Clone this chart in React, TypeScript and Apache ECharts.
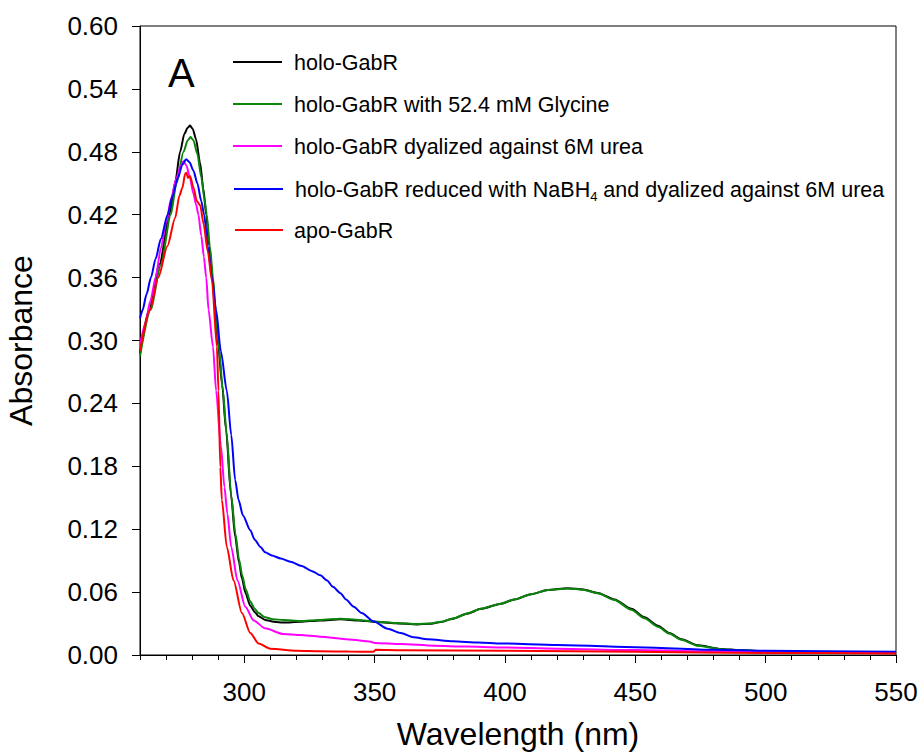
import React, { useEffect, useRef } from "react";
import * as echarts from "echarts";

// Absorbance spectra (wavelength in nm, absorbance)
const holoWl = [260, 263.5, 267.5, 271.3, 273.5, 275.4, 277, 278.3, 279.2, 280.2, 281.5, 283, 284.3, 285.4, 286.6, 287.8, 288.8, 290, 291.5, 293, 294.9, 296.5, 298, 299.1, 300.5, 302.3, 304, 305.5, 308, 311.3, 315, 321.5, 329, 337, 344, 349.7, 358, 366.4, 371, 375.4, 380, 385.6, 390.8, 398.5, 403.6, 410, 416.4, 424.1, 430, 435.6, 442, 448.5, 453.5, 458.7, 463, 467.7, 474.1, 483, 490, 500, 520, 550];
const holoAbs = [0.288, 0.329, 0.373, 0.42, 0.451, 0.48, 0.497, 0.503, 0.505, 0.502, 0.492, 0.47, 0.445, 0.42, 0.39, 0.36, 0.329, 0.295, 0.258, 0.215, 0.153, 0.113, 0.088, 0.073, 0.059, 0.047, 0.041, 0.037, 0.0335, 0.0317, 0.031, 0.0317, 0.033, 0.034, 0.033, 0.0317, 0.0302, 0.0292, 0.0297, 0.0315, 0.0345, 0.0395, 0.044, 0.049, 0.053, 0.058, 0.062, 0.0637, 0.0625, 0.0592, 0.053, 0.044, 0.036, 0.028, 0.021, 0.015, 0.0092, 0.0058, 0.0045, 0.0037, 0.0029, 0.0022];

const glyWl = [260, 264, 268, 271.8, 274, 276.7, 278.3, 279.4, 280.5, 282, 283.5, 284.7, 285.6, 286.8, 288, 289, 290.2, 291.8, 293.2, 295, 296.6, 298, 299.2, 300.5, 302.3, 304, 305.5, 308, 311, 315, 321.5, 329, 337, 344, 349.7, 358, 366.4, 371, 375.4, 380, 385.6, 390.8, 398.5, 403.6, 410, 416.4, 424.1, 430, 435.6, 442, 448.5, 453.5, 458.7, 463, 467.7, 474.1, 483, 490, 500, 520, 550];
const glyAbs = [0.285, 0.329, 0.372, 0.42, 0.45, 0.48, 0.491, 0.494, 0.491, 0.478, 0.456, 0.435, 0.42, 0.39, 0.36, 0.329, 0.295, 0.252, 0.212, 0.152, 0.116, 0.091, 0.076, 0.063, 0.051, 0.044, 0.04, 0.036, 0.0342, 0.0333, 0.0325, 0.0335, 0.0345, 0.0335, 0.032, 0.0305, 0.0295, 0.03, 0.0317, 0.0347, 0.0397, 0.0442, 0.049, 0.053, 0.058, 0.062, 0.0635, 0.0622, 0.0588, 0.0525, 0.0432, 0.035, 0.027, 0.0205, 0.0145, 0.0088, 0.0056, 0.0045, 0.0037, 0.0029, 0.0022];

const ureaWl = [260, 262, 264, 266, 268, 270, 272, 274, 275.5, 276.7, 277.8, 279, 280.5, 281.5, 282.4, 283.5, 284.5, 285.4, 286.3, 288, 289.2, 291, 292.4, 293.5, 295, 297.4, 300.4, 303.6, 308, 315, 321.5, 329, 340, 348.5, 350, 360, 372.8, 385, 398.5, 420, 450, 480, 500, 550];
const ureaAbs = [0.295, 0.316, 0.338, 0.36, 0.388, 0.412, 0.436, 0.455, 0.466, 0.471, 0.467, 0.457, 0.44, 0.43, 0.42, 0.4, 0.38, 0.36, 0.329, 0.294, 0.252, 0.2, 0.16, 0.135, 0.103, 0.071, 0.046, 0.033, 0.0254, 0.02, 0.019, 0.0175, 0.0148, 0.0127, 0.0115, 0.0105, 0.0089, 0.008, 0.0072, 0.006, 0.0047, 0.0035, 0.003, 0.002];

const nabhWl = [260, 261, 262.5, 264.2, 266, 268, 270.6, 272.5, 274.5, 276.3, 277.7, 279, 280.5, 282, 283.5, 284.6, 286, 287.6, 289.2, 291, 293.3, 295, 296.5, 297.8, 299.5, 302.3, 304, 306.2, 308, 310.6, 314, 317.7, 322, 326, 329.2, 331.8, 334, 336.9, 339, 342, 345, 349.7, 355, 360, 365, 370.3, 380, 390, 398.5, 420, 450, 480, 500, 550];
const nabhAbs = [0.321, 0.329, 0.344, 0.36, 0.378, 0.397, 0.42, 0.438, 0.455, 0.468, 0.473, 0.47, 0.462, 0.45, 0.433, 0.42, 0.39, 0.36, 0.329, 0.29, 0.252, 0.21, 0.167, 0.148, 0.133, 0.119, 0.11, 0.103, 0.098, 0.095, 0.092, 0.089, 0.085, 0.08, 0.076, 0.071, 0.065, 0.059, 0.053, 0.046, 0.04, 0.032, 0.025, 0.021, 0.017, 0.015, 0.013, 0.012, 0.011, 0.0095, 0.0075, 0.005, 0.004, 0.003];

const apoWl = [260, 263.8, 267, 270.5, 273.5, 275.1, 276.3, 277.3, 277.8, 278.4, 279.2, 280.5, 281.8, 283.1, 284.4, 286, 287.6, 289.5, 290.1, 290.8, 291.4, 293.3, 295.9, 299.1, 302.3, 305.5, 310, 320, 329.2, 340, 349.5, 350.5, 360, 400, 450, 500, 550];
const apoAbs = [0.29, 0.329, 0.36, 0.39, 0.417, 0.438, 0.446, 0.459, 0.46, 0.455, 0.457, 0.446, 0.433, 0.429, 0.411, 0.385, 0.357, 0.294, 0.252, 0.179, 0.148, 0.103, 0.071, 0.04, 0.021, 0.011, 0.006, 0.004, 0.0035, 0.0033, 0.003, 0.005, 0.0045, 0.004, 0.003, 0.002, 0.0015];

const seriesNames = [
  "holo-GabR",
  "holo-GabR with 52.4 mM Glycine",
  "holo-GabR dyalized against 6M urea",
  "holo-GabR reduced with NaBH4 and dyalized against 6M urea",
  "apo-GabR",
];
const seriesColors = ["#000000", "#0a840a", "#ff00ff", "#0000ff", "#ff0000"];
const seriesWl = [holoWl, glyWl, ureaWl, nabhWl, apoWl];
const seriesAbs = [holoAbs, glyAbs, ureaAbs, nabhAbs, apoAbs];

const majorTicks = [300, 350, 400, 450, 500, 550];

const FONT = "'Liberation Sans', Arial, Helvetica, sans-serif";

export default function App() {
  const ref = useRef<HTMLDivElement>(null);

  useEffect(() => {
    if (!ref.current) return;
    document.body.style.margin = "0";
    const chart = echarts.init(ref.current, null, { renderer: "svg" });

    const series = seriesNames.map((name, i) => ({
      name,
      type: "line",
      xAxisIndex: 0,
      yAxisIndex: 0,
      data: seriesWl[i].map((w, k) => [w, seriesAbs[i][k]]),
      showSymbol: false,
      symbol: "none",
      smooth: 0.25,
      smoothMonotone: "x",
      lineStyle: { color: seriesColors[i], width: 2 },
      itemStyle: { color: seriesColors[i] },
      z: 2 + i,
    }));

    // legend rows drawn as graphic lines + labels
    const rows = [
      { y: 62, x1: 233, x2: 282, text: "holo-GabR" },
      { y: 104, x1: 233, x2: 282, text: "holo-GabR with 52.4 mM Glycine" },
      { y: 146, x1: 233, x2: 282, text: "holo-GabR dyalized against 6M urea" },
      { y: 189, x1: 234, x2: 283, rich: true },
      { y: 230, x1: 235, x2: 283, text: "apo-GabR" },
    ];
    const legendEls: any[] = [];
    rows.forEach((r, i) => {
      legendEls.push({
        type: "line",
        shape: { x1: r.x1, y1: r.y, x2: r.x2, y2: r.y },
        style: { stroke: seriesColors[i], lineWidth: 2 },
        z: 10,
      });
      if (r.rich) {
        legendEls.push({
          type: "text",
          x: 295,
          y: r.y + 1,
          z: 10,
          style: {
            text: "{a|holo-GabR reduced with NaBH}{s|4}{a| and dyalized against 6M urea}",
            verticalAlign: "middle",
            rich: {
              a: { fontSize: 21.5, fontFamily: FONT, fill: "#000", lineHeight: 26, verticalAlign: "middle" },
              s: { fontSize: 13, fontFamily: FONT, fill: "#000", lineHeight: 13, verticalAlign: "bottom" },
            },
          },
        });
      } else {
        legendEls.push({
          type: "text",
          x: 294,
          y: r.y + 1,
          z: 10,
          style: {
            text: r.text,
            fontSize: 21.5,
            fontFamily: FONT,
            fill: "#000",
            verticalAlign: "middle",
          },
        });
      }
    });

    chart.setOption({
      animation: false,
      backgroundColor: "#ffffff",
      textStyle: { fontFamily: FONT, color: "#000" },
      grid: {
        left: 140,
        right: 24,
        top: 26,
        bottom: 101,
        show: true,
        borderColor: "#000",
        borderWidth: 1,
        backgroundColor: "transparent",
        outerBoundsMode: "none",
      },
      xAxis: [
        {
          type: "value",
          min: 260,
          max: 550,
          interval: 10,
          position: "bottom",
          name: "Wavelength (nm)",
          nameLocation: "middle",
          nameGap: 63,
          nameTextStyle: { fontSize: 32, fontFamily: FONT, color: "#000" },
          axisLine: { show: true, lineStyle: { color: "#000", width: 1 } },
          axisTick: { show: true, inside: false, length: 5, lineStyle: { color: "#000", width: 1 } },
          axisLabel: { show: false },
          splitLine: { show: false },
        },
        {
          type: "value",
          min: 260,
          max: 550,
          position: "bottom",
          axisLine: { show: false },
          axisTick: {
            show: true,
            inside: false,
            length: 8,
            customValues: majorTicks,
            lineStyle: { color: "#000", width: 1 },
          },
          axisLabel: {
            show: true,
            customValues: majorTicks,
            margin: 24,
            fontSize: 26,
            fontFamily: FONT,
            color: "#000",
          },
          splitLine: { show: false },
        },
      ],
      yAxis: {
        type: "value",
        min: 0,
        max: 0.6,
        interval: 0.06,
        name: "Absorbance",
        nameLocation: "middle",
        nameGap: 103,
        nameRotate: 90,
        nameTextStyle: { fontSize: 32, fontFamily: FONT, color: "#000" },
        axisLine: { show: true, lineStyle: { color: "#000", width: 1 } },
        axisTick: { show: true, inside: false, length: 8, lineStyle: { color: "#000", width: 1 } },
        axisLabel: {
          margin: 22,
          fontSize: 26,
          fontFamily: FONT,
          color: "#000",
          formatter: (v: number) => v.toFixed(2),
        },
        splitLine: { show: false },
      },
      series,
      graphic: [
        {
          type: "text",
          x: 168,
          y: 73,
          z: 10,
          style: {
            text: "A",
            fontSize: 40,
            fontFamily: FONT,
            fill: "#000",
            verticalAlign: "middle",
          },
        },
        ...legendEls,
      ],
    });

    return () => chart.dispose();
  }, []);

  return <div ref={ref} style={{ width: 920, height: 756 }} />;
}
